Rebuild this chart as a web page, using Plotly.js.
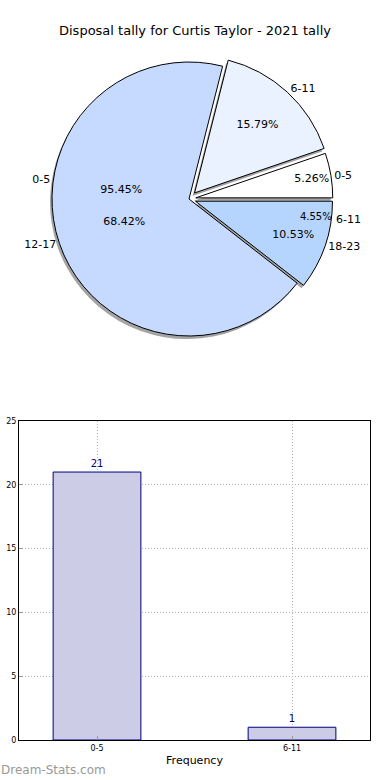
<!DOCTYPE html>
<html>
<head>
<meta charset="utf-8">
<script src="https://cdn.plot.ly/plotly-3.0.1.min.js"></script>
<style>html,body{margin:0;padding:0;background:#fff;}#chart{width:390px;height:780px;}</style>
</head>
<body>
<div id="chart"></div>
<script>
// Pie (2021 tally, visible pie)
const pieLabels = ['0-5', '6-11', '12-17', '18-23'];
const pieValues = [1, 3, 13, 2];
const pieColors = ['#ffffff', '#eaf1ff', '#c6d9ff', '#b5d5ff'];
// Second pie drawn in the same place
const pie2Labels = ['0-5', '6-11'];
const pie2Values = [21, 1];
// Bar chart
const barCats = ['0-5', '6-11'];
const barValues = [21, 1];
const yTicks = [0, 5, 10, 15, 20, 25];

const W = 390, H = 780, ML = 19, MR = 20, MT = 30, MB = 40;
const PW = W - ML - MR, PH = H - MT - MB;
const maxPull = 0.06;
const r = 137;
function dom(cx, cy) {
  const R = r * (1 + maxPull);
  return {
    x: [(cx - R - ML) / PW, (cx + R - ML) / PW],
    y: [(H - MB - cy - R) / PH, (H - MB - cy + R) / PH]
  };
}
// start first slice at 3 o'clock and go counterclockwise (matplotlib style)
function rot(vals) {
  const s = vals.reduce((a, b) => a + b, 0);
  return 90 - 360 * vals[0] / s;
}
const cx = 189, cy = 199;
const pullA = [0.05, 0.06, 0, 0.05];
const pullB = [0, 0.06];
const font = 'DejaVu Sans, sans-serif';
const rotA = rot(pieValues), rotB = rot(pie2Values);

const traces = [
  { // shadow
    type: 'pie', labels: pieLabels, values: pieValues, sort: false,
    direction: 'counterclockwise', rotation: rotA, pull: pullA,
    domain: dom(cx - 2, cy + 3), textinfo: 'none', hoverinfo: 'skip',
    marker: {colors: pieValues.map(() => 'rgba(90,90,90,0.55)'), line: {width: 0}},
    showlegend: false
  },
  { // visible pie
    type: 'pie', labels: pieLabels, values: pieValues, sort: false,
    direction: 'counterclockwise', rotation: rotA, pull: pullA,
    domain: dom(cx, cy),
    texttemplate: '%{percent:.2%}', textposition: 'inside', insidetextorientation: 'horizontal',
    insidetextfont: {family: font, size: 11, color: '#000'},
    marker: {colors: pieColors, line: {color: '#000', width: 1}},
    showlegend: false
  },
  { // labels of visible pie
    type: 'pie', labels: pieLabels, values: pieValues, sort: false,
    direction: 'counterclockwise', rotation: rotA, pull: pullA,
    domain: dom(cx, cy),
    texttemplate: '%{label}', textposition: 'outside',
    outsidetextfont: {family: font, size: 11, color: '#000'},
    marker: {colors: pieValues.map(() => 'rgba(0,0,0,0)'), line: {width: 0}},
    hoverinfo: 'skip', showlegend: false
  },
  { // percents of second pie
    type: 'pie', labels: pie2Labels, values: pie2Values, sort: false,
    direction: 'counterclockwise', rotation: rotB, pull: pullB,
    domain: dom(cx, cy),
    texttemplate: '%{percent:.2%}', textposition: 'inside', insidetextorientation: 'horizontal',
    insidetextfont: {family: font, size: 11, color: '#000'},
    marker: {colors: pie2Values.map(() => 'rgba(0,0,0,0)'), line: {width: 0}},
    hoverinfo: 'skip', showlegend: false
  },
  { // labels of second pie
    type: 'pie', labels: pie2Labels, values: pie2Values, sort: false,
    direction: 'counterclockwise', rotation: rotB, pull: pullB,
    domain: dom(cx, cy),
    texttemplate: '%{label}', textposition: 'outside',
    outsidetextfont: {family: font, size: 11, color: '#000'},
    marker: {colors: pie2Values.map(() => 'rgba(0,0,0,0)'), line: {width: 0}},
    hoverinfo: 'skip', showlegend: false
  },
  { // bars
    type: 'bar', x: barCats, y: barValues, width: 0.45,
    marker: {color: '#ccccE6', line: {color: '#000080', width: 1}},
    text: barValues.map(String), textposition: 'outside', cliponaxis: false,
    textfont: {family: font, size: 10, color: '#000080'},
    xaxis: 'x', yaxis: 'y', showlegend: false
  }
];

const layout = {
  width: W, height: H,
  margin: {l: ML, r: MR, t: MT, b: MB},
  paper_bgcolor: '#fff', plot_bgcolor: '#fff',
  font: {family: font, color: '#000'},
  title: {text: 'Disposal tally for Curtis Taylor - 2021 tally', font: {family: font, size: 13, color: '#000'},
          x: 0.5, xref: 'container', xanchor: 'center', y: 1 - 30 / H, yref: 'container', yanchor: 'middle'},
  showlegend: false,
  xaxis: {
    type: 'category', range: [-0.4, 1.4], domain: [0, 1], anchor: 'y',
    showgrid: true, gridcolor: '#b0b0b0', griddash: '1px,2px', gridwidth: 1,
    showline: true, linecolor: '#000', linewidth: 1, mirror: true,
    ticks: 'inside', ticklen: 4, tickcolor: '#999',
    tickfont: {family: font, size: 8, color: '#000'},
    title: {text: 'Frequency', font: {family: font, size: 11, color: '#000'}, standoff: 4},
    zeroline: false, fixedrange: true
  },
  yaxis: {
    range: [0, 25], tickvals: yTicks, domain: [0, (740 - 421) / PH], anchor: 'x',
    showgrid: true, gridcolor: '#b0b0b0', griddash: '1px,2px', gridwidth: 1,
    showline: true, linecolor: '#000', linewidth: 1, mirror: true,
    ticks: 'inside', ticklen: 4, tickcolor: '#999',
    tickfont: {family: font, size: 8, color: '#000'},
    zeroline: false, fixedrange: true
  },
  annotations: [{
    text: 'Dream-Stats.com', xref: 'paper', yref: 'paper',
    x: -20 / PW, y: -30 / PH, xanchor: 'left', yanchor: 'middle', showarrow: false,
    font: {family: font, size: 12, color: '#999'}
  }]
};

Plotly.newPlot('chart', traces, layout, {displayModeBar: false, staticPlot: true});
</script>
</body>
</html>
